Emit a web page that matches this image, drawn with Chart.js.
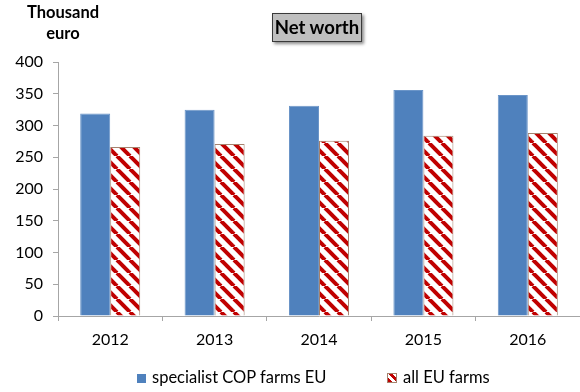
<!DOCTYPE html>
<html lang="en">
<head>
  <meta charset="UTF-8">
  <title>Net worth</title>
  <script src="https://cdn.jsdelivr.net/npm/chart.js"></script>
</head>
<style>
  body {
    margin: 0;
    background: #fff;
    font-family: Lato, "Open Sans", sans-serif;
  }

  .wrap {
    position: relative;
    width: 580px;
    height: 392px;
  }

  .unit {
    position: absolute;
    left: 13px;
    top: 2px;
    width: 100px;
    text-align: center;
    font-weight: bold;
    font-size: 16.5px;
    line-height: 21px;
    color: #000;
  }

  .title {
    position: absolute;
    left: 272px;
    top: 13px;
    width: 88px;
    height: 27px;
    line-height: 27px;
    text-align: center;
    background: #bfbfbf;
    border: 1px solid #3a3a3a;
    box-shadow: 2px 2px 3px rgba(0, 0, 0, 0.45);
    font-weight: bold;
    font-size: 18.5px;
    color: #000;
  }

  .legend {
    position: absolute;
    top: 367px;
    left: 0;
    width: 580px;
    font-size: 16.5px;
    line-height: 20px;
    color: #000;
  }

  .legend span {
    position: absolute;
    white-space: nowrap;
  }

  .box {
    display: inline-block;
    width: 9px;
    height: 9px;
    margin-right: 6px;
    vertical-align: 0px;
  }

  .box.blue {
    background: #4f81bd;
  }

  .box.hatch {
    width: 8px;
    height: 8px;
    border: 1px solid #a5826e;
    background: repeating-linear-gradient(45deg, #c00000 0 3px, #fff 3px 6px);
  }
</style>
<body>

<div class="wrap">
  <canvas id="netWorthChart" width="580" height="392"></canvas>
  <div class="unit">Thousand<br>euro</div>
  <div class="title">Net worth</div>
  <div class="legend">
    <span style="left:137px"><i class="box blue"></i>specialist COP farms EU</span>
    <span style="left:387px"><i class="box hatch"></i>all EU farms</span>
  </div>
</div>

<script>
  // Data (thousand euro)
  const years = ['2012', '2013', '2014', '2015', '2016'];
  const copFarms = [319, 325, 331, 356, 348];
  const allFarms = [266, 271, 276, 284, 288];
  const yTicks = [0, 50, 100, 150, 200, 250, 300, 350, 400];

  // red diagonal hatch used for the "all EU farms" bars
  function makeHatch() {
    const s = 13;
    const c = document.createElement('canvas');
    c.width = s;
    c.height = s;
    const g = c.getContext('2d');
    g.fillStyle = '#fff';
    g.fillRect(0, 0, s, s);
    g.strokeStyle = '#c00000';
    g.lineWidth = 4;
    [-s, 0, s].forEach(x0 => {
      g.beginPath();
      g.moveTo(x0, 0);
      g.lineTo(x0 + s, s);
      g.stroke();
    });
    return g.createPattern(c, 'repeat');
  }

  const ctx = document.getElementById('netWorthChart').getContext('2d');
  const hatch = makeHatch();
  const axisColor = '#a6a6a6';
  const tickFont = { family: 'Lato', size: 16 };

  const chart = new Chart(ctx, {
    type: 'bar',
    data: {
      labels: years,
      datasets: [{
        label: 'specialist COP farms EU',
        data: copFarms,
        backgroundColor: '#4f81bd',
        borderColor: '#6b95c8',
        borderWidth: 1
      },
      {
        label: 'all EU farms',
        data: allFarms,
        backgroundColor: hatch,
        borderColor: '#a5826e',
        borderWidth: 1
      }]
    },
    options: {
      responsive: false,
      maintainAspectRatio: false,
      animation: false,
      categoryPercentage: 0.575,
      barPercentage: 1,
      layout: {
        padding: { top: 62, left: 0, right: 0, bottom: 46 }
      },
      plugins: {
        legend: { display: false },
        title: { display: false },
        tooltip: { enabled: false }
      },
      scales: {
        x: {
          grid: {
            offset: true,
            drawOnChartArea: false,
            tickLength: 5,
            color: axisColor
          },
          border: { color: axisColor },
          ticks: { color: '#000', font: tickFont, padding: 9 },
          afterFit: scale => { scale.height = 30; }
        },
        y: {
          min: 0,
          max: 400,
          afterBuildTicks: scale => {
            scale.ticks = yTicks.map(v => ({ value: v }));
          },
          grid: {
            drawOnChartArea: false,
            tickLength: 5,
            color: axisColor
          },
          border: { color: axisColor },
          ticks: { color: '#000', font: tickFont, padding: 10, autoSkip: false },
          afterFit: scale => { scale.width = 58; }
        }
      }
    }
  });
</script>
</body>
</html>
